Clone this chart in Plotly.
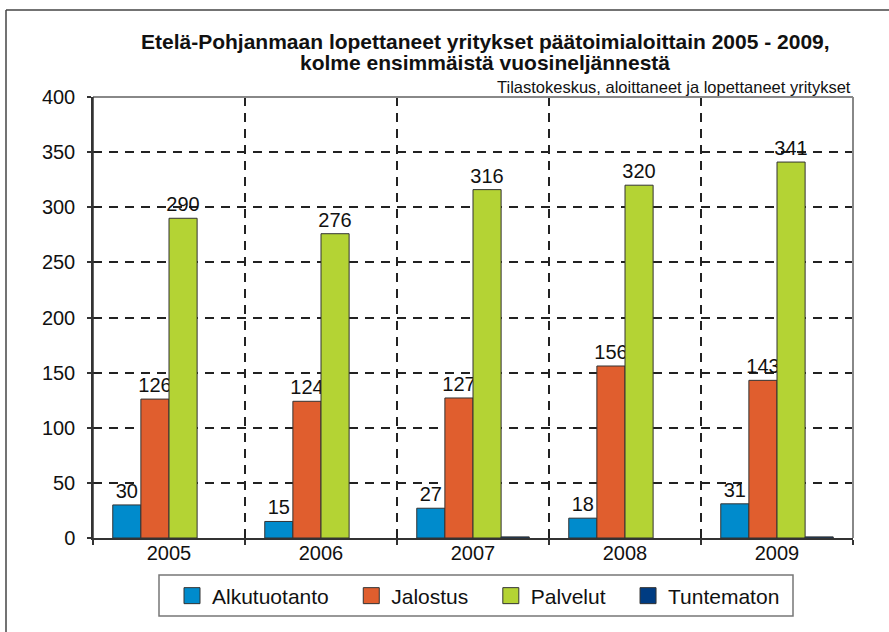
import plotly.graph_objects as go

years = ["2005", "2006", "2007", "2008", "2009"]
alkutuotanto = [30, 15, 27, 18, 31]
jalostus = [126, 124, 127, 156, 143]
palvelut = [290, 276, 316, 320, 341]
tuntematon = [0, 0, 1, 0, 1]

series_names = ["Alkutuotanto", "Jalostus", "Palvelut", "Tuntematon"]
series_values = [alkutuotanto, jalostus, palvelut, tuntematon]
series_colors = ["#008bcc", "#e05e2e", "#b4d334", "#003c82"]
show_labels = [True, True, True, False]

title_line1 = "Etelä-Pohjanmaan lopettaneet yritykset päätoimialoittain 2005 - 2009,"
title_line2 = "kolme ensimmäistä vuosineljännestä"
source_text = "Tilastokeskus, aloittaneet ja lopettaneet yritykset"

FONT = "Liberation Sans, Arial, sans-serif"
PAD = "\u00a0\u00a0\u00a0"

fig = go.Figure()
for name, vals, col, lab in zip(series_names, series_values, series_colors, show_labels):
    fig.add_trace(go.Bar(
        name=name, x=years, y=vals, showlegend=False, legendgroup=name,
        marker=dict(color=col, line=dict(color="#333333", width=[1 if v > 0 else 0 for v in vals])),
        text=[str(v) for v in vals] if lab else None,
        textposition="outside" if lab else "none",
        constraintext="none",
        textfont=dict(size=20, color="#111111", family=FONT),
        cliponaxis=False,
    ))
# legend entries with larger square swatches
for i, (name, col) in enumerate(zip(series_names, series_colors)):
    fig.add_trace(go.Scatter(
        name=name + (PAD if i < len(series_names) - 1 else ""), x=[None], y=[None],
        mode="markers", legendgroup=name,
        marker=dict(symbol="square", size=20, color=col, line=dict(color="#333333", width=1)),
    ))

W, H = 889, 632
L, R, T, B = 93, 36, 97, 94
pw, ph = W - L - R, H - T - B

def px_x(x):
    return (x - L) / pw

def px_y(y):
    return (H - B - y) / ph

fig.update_layout(
    width=W, height=H,
    margin=dict(l=L, r=R, t=T, b=B, autoexpand=False),
    paper_bgcolor="white", plot_bgcolor="white",
    barmode="group", bargap=0.26, bargroupgap=0,
    font=dict(family=FONT, color="#111111"),
    showlegend=True,
    legend=dict(
        orientation="h", x=px_x(172), xanchor="left", y=px_y(596), yanchor="middle",
        font=dict(size=21, family=FONT, color="#111111"),
        borderwidth=0, bgcolor="rgba(0,0,0,0)",
        itemwidth=30, traceorder="normal", itemsizing="trace",
    ),
    xaxis=dict(
        type="category", tickson="boundaries", ticks="outside", ticklen=5,
        tickcolor="#333333", tickwidth=1.5, ticklabelstandoff=-4,
        showline=True, linecolor="#333333", linewidth=1.5,
        showgrid=True, gridcolor="#222222", gridwidth=2, griddash="9px,7px",
        tickfont=dict(size=20, family=FONT, color="#111111"),
    ),
    yaxis=dict(
        range=[0, 400], dtick=50, ticks="outside", ticklen=4,
        tickcolor="#333333", tickwidth=1.5, ticklabelstandoff=8,
        showline=True, linecolor="#333333", linewidth=1.5,
        showgrid=True, gridcolor="#222222", gridwidth=2, griddash="9px,7px",
        zeroline=False,
        tickfont=dict(size=20, family=FONT, color="#111111"),
    ),
    annotations=[
        dict(text="<b>" + title_line1 + "</b>", xref="paper", yref="paper",
             x=px_x(485), y=px_y(41), xanchor="center", yanchor="middle", showarrow=False,
             font=dict(size=21, family=FONT, color="#111111")),
        dict(text="<b>" + title_line2 + "</b>", xref="paper", yref="paper",
             x=px_x(485), y=px_y(62), xanchor="center", yanchor="middle", showarrow=False,
             font=dict(size=21, family=FONT, color="#111111")),
        dict(text=source_text, xref="paper", yref="paper",
             x=px_x(853), y=px_y(87), xanchor="right", yanchor="middle", showarrow=False,
             font=dict(size=16.5, family=FONT, color="#111111")),
    ],
    shapes=[
        dict(type="line", xref="paper", yref="paper", x0=0, x1=1, y0=1, y1=1,
             line=dict(color="#888888", width=2), layer="above"),
        dict(type="line", xref="paper", yref="paper", x0=1, x1=1, y0=0, y1=1,
             line=dict(color="#888888", width=2), layer="above"),
        dict(type="line", xref="paper", yref="paper", x0=0, x1=0, y0=0, y1=1,
             line=dict(color="#333333", width=1.5), layer="above"),
        dict(type="line", xref="paper", yref="paper", x0=px_x(6), x1=px_x(895), y0=px_y(10), y1=px_y(10),
             line=dict(color="#444444", width=1.5)),
        dict(type="line", xref="paper", yref="paper", x0=px_x(6), x1=px_x(6), y0=px_y(10), y1=px_y(640),
             line=dict(color="#444444", width=1.5)),
        dict(type="rect", xref="paper", yref="paper", x0=px_x(159), x1=px_x(793), y0=px_y(616), y1=px_y(575),
             line=dict(color="#777777", width=1.5), fillcolor="rgba(0,0,0,0)"),
    ],
)

fig.write_html("out.html", config={"displayModeBar": False},
               post_script="document.body.style.margin='0';")
